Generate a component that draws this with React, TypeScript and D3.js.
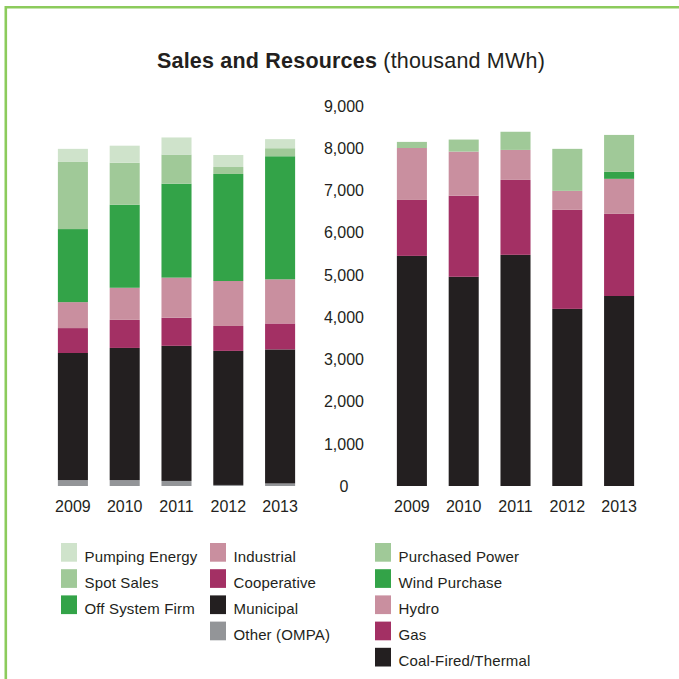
import * as d3 from 'd3';

const years = ['2009', '2010', '2011', '2012', '2013'];

// Sales (left stack), bottom to top
const other = [140, 140, 120, 25, 60];
const municipal = [3010, 3130, 3200, 3175, 3175];
const cooperative = [590, 665, 665, 590, 615];
const industrial = [615, 760, 950, 1065, 1045];
const offSystemFirm = [1730, 1965, 2225, 2535, 2915];
const spotSales = [1590, 995, 690, 165, 190];
const pumpingEnergy = [310, 405, 405, 285, 215];

// Resources (right stack), bottom to top
const coalFired = [5450, 4955, 5475, 4195, 4500];
const gas = [1325, 1920, 1775, 2345, 1945];
const hydro = [1230, 1045, 710, 450, 830];
const windPurchase = [0, 0, 0, 0, 165];
const purchasedPower = [145, 285, 430, 995, 875];

const yTicks = [0, 1000, 2000, 3000, 4000, 5000, 6000, 7000, 8000, 9000];

const C = {
  pale: '#cfe3cb',
  light: '#a0c998',
  green: '#33a348',
  pink: '#c98f9f',
  plum: '#a33064',
  black: '#231f20',
  gray: '#939598',
};

const salesSeries = [
  { name: 'Other (OMPA)', values: other, color: C.gray },
  { name: 'Municipal', values: municipal, color: C.black },
  { name: 'Cooperative', values: cooperative, color: C.plum },
  { name: 'Industrial', values: industrial, color: C.pink },
  { name: 'Off System Firm', values: offSystemFirm, color: C.green },
  { name: 'Spot Sales', values: spotSales, color: C.light },
  { name: 'Pumping Energy', values: pumpingEnergy, color: C.pale },
];

const resourceSeries = [
  { name: 'Coal-Fired/Thermal', values: coalFired, color: C.black },
  { name: 'Gas', values: gas, color: C.plum },
  { name: 'Hydro', values: hydro, color: C.pink },
  { name: 'Wind Purchase', values: windPurchase, color: C.green },
  { name: 'Purchased Power', values: purchasedPower, color: C.light },
];

const legendCols = [
  { x: 61, items: ['Pumping Energy', 'Spot Sales', 'Off System Firm'] },
  { x: 210, items: ['Industrial', 'Cooperative', 'Municipal', 'Other (OMPA)'] },
  { x: 375, items: ['Purchased Power', 'Wind Purchase', 'Hydro', 'Gas', 'Coal-Fired/Thermal'] },
];

const font = '"Liberation Sans", Arial, sans-serif';
const W = 679;
const H = 679;

const y = d3.scaleLinear().domain([0, 9000]).range([486, 106]);

function Stack({ series, range }: { series: typeof salesSeries; range: [number, number] }) {
  const x = d3.scaleBand().domain(years).range(range).paddingInner(0.42).paddingOuter(0.21);
  const rows = years.map((yr, i) => {
    const row: Record<string, number | string> = { year: yr };
    series.forEach((s) => (row[s.name] = s.values[i]));
    return row;
  });
  const stacked = d3.stack<any>().keys(series.map((s) => s.name))(rows);
  return (
    <g>
      {stacked.map((layer, li) => (
        <g key={layer.key} fill={series[li].color}>
          {layer.map((d) => (
            <rect
              key={d.data.year}
              x={x(d.data.year as string)}
              width={x.bandwidth()}
              y={y(d[1])}
              height={Math.max(0, y(d[0]) - y(d[1]))}
            />
          ))}
        </g>
      ))}
      {years.map((yr) => (
        <text
          key={yr}
          x={(x(yr) as number) + x.bandwidth() / 2}
          y={512}
          textAnchor="middle"
          fontSize={16}
          fill={C.black}
        >
          {yr}
        </text>
      ))}
    </g>
  );
}

export default function App() {
  const colorOf = (name: string) =>
    [...salesSeries, ...resourceSeries].find((s) => s.name === name)!.color;
  const fmt = d3.format(',');

  return (
    <svg
      width={W}
      height={H}
      style={{ position: 'absolute', left: 0, top: 0, background: '#fff' }}
      fontFamily={font}
    >
      <path d={`M5.8,${H} V7.3 H${W}`} fill="none" stroke="#8ccb5c" strokeWidth={2.6} />

      <text x={351} y={68} textAnchor="middle" fontSize={21.5} letterSpacing={0.2} fill={C.black}>
        <tspan fontWeight="bold">Sales and Resources</tspan>
        <tspan> (thousand MWh)</tspan>
      </text>

      {yTicks.map((t) => (
        <text key={t} x={344} y={y(t)} dy="0.36em" textAnchor="middle" fontSize={16} fill={C.black}>
          {fmt(t)}
        </text>
      ))}

      <Stack series={salesSeries} range={[47, 306]} />
      <Stack series={resourceSeries} range={[386, 645]} />

      {legendCols.map((col) =>
        col.items.map((name, i) => (
          <g key={name} transform={`translate(${col.x},${543 + i * 26.2})`}>
            <rect width={16} height={18.7} fill={colorOf(name)} />
            <text x={23.5} y={18.5} fontSize={15} letterSpacing={0.15} fill={C.black}>
              {name}
            </text>
          </g>
        ))
      )}
    </svg>
  );
}
